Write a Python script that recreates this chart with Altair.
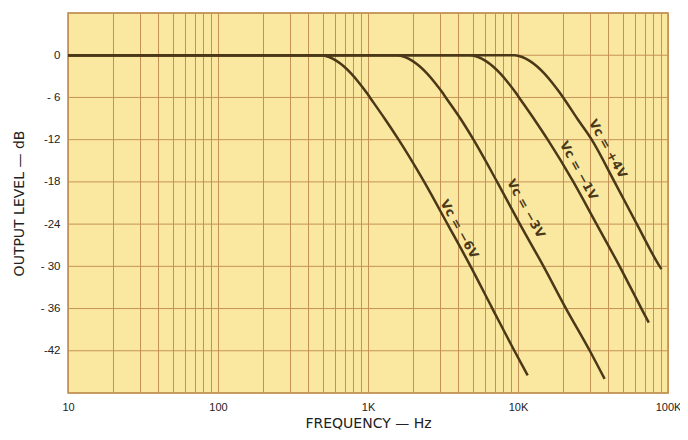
import altair as alt
import pandas as pd

# --- data (frequency in Hz, level in dB) ---
f_m6 = [10, 300, 490, 550, 617, 692, 776, 871, 977, 1030, 1300, 1600, 2370, 3390, 4830, 6750, 9460, 11600]
db_m6 = [0, 0, 0, -0.25, -0.8, -1.6, -2.65, -3.9, -5.3, -6, -9.1, -12, -18, -24, -30, -36, -42, -45.5]

f_m3 = [10, 900, 1570, 1762, 1977, 2218, 2489, 2793, 3133, 3300, 4160, 5050, 7260, 10300, 14800, 20900, 30100, 37800]
db_m3 = [0, 0, 0, -0.25, -0.8, -1.6, -2.65, -3.9, -5.3, -6, -9.1, -12, -18, -24, -30, -36, -42, -46]

f_m1 = [10, 3000, 4830, 5420, 6080, 6820, 7660, 8590, 9640, 10160, 12820, 15780, 23400, 33400, 47600, 66500, 74500]
db_m1 = [0, 0, 0, -0.25, -0.8, -1.6, -2.65, -3.9, -5.3, -6, -9.1, -12, -18, -24, -30, -36, -38.0]

f_p4 = [10, 6000, 9500, 10660, 11960, 13420, 15060, 16900, 18960, 20000, 25000, 31000, 44000, 62000, 88000, 90500]
db_p4 = [0, 0, 0, -0.25, -0.8, -1.6, -2.65, -3.9, -5.3, -6, -9.1, -12, -18, -24, -30, -30.4]

series_names = ["Vc = −6V", "Vc = −3V", "Vc = −1V", "Vc = +4V"]
label_f = [4060, 11300, 25400, 39700]
label_db = [-24.7, -21.8, -16.4, -13.3]

y_ticks = [0, -6, -12, -18, -24, -30, -36, -42]
y_tick_text = ["0", "- 6", "-12", "-18", "-24", "- 30", "- 36", "-42"]
x_grid = [10, 20, 30, 40, 50, 60, 70, 80, 90,
          100, 200, 300, 400, 500, 600, 700, 800, 900,
          1000, 2000, 3000, 4000, 5000, 6000, 7000, 8000, 9000,
          10000, 20000, 30000, 40000, 50000, 60000, 70000, 80000, 90000, 100000]
x_label_vals = [10, 100, 1000, 10000, 100000]
x_label_text = ["10", "100", "1K", "10K", "100K"]
y_grid = [6, 0, -6, -12, -18, -24, -30, -36, -42, -48]

# --- build tables ---
rows = []
for name, fs, dbs in zip(series_names, [f_m6, f_m3, f_m1, f_p4], [db_m6, db_m3, db_m1, db_p4]):
    for i, (f, d) in enumerate(zip(fs, dbs)):
        rows.append({"series": name, "f": f, "db": d, "order": i})
curves = pd.DataFrame(rows)
labels = pd.DataFrame({"series": series_names, "f": label_f, "db": label_db})
ygrid_df = pd.DataFrame({"db": y_grid})

CURVE = "#4a3818"
GRID = "#c59256"

xscale = alt.Scale(type="log", domain=[10, 100000], nice=False)
yscale = alt.Scale(domain=[-48, 6], nice=False, zero=False)

x_label_expr = " : ".join(
    f"datum.value == {v} ? '{t}'" for v, t in zip(x_label_vals, x_label_text)
) + " : ''"
y_label_expr = " : ".join(
    f"datum.value == {v} ? '{t}'" for v, t in zip(y_ticks, y_tick_text)
) + " : ''"

xaxis = alt.Axis(values=x_grid, labelExpr=x_label_expr, labelOverlap=False,
                 title="FREQUENCY — Hz", grid=True, gridColor=GRID, gridWidth=1,
                 ticks=False, domain=False, labelPadding=8, titlePadding=4,
                 labelFont="Liberation Sans", labelFontSize=11, labelColor="#222",
                 titleFont="DejaVu Sans", titleFontSize=14, titleFontWeight="normal",
                 titleColor="#222", labelFlush=False)
yaxis = alt.Axis(values=y_ticks, labelExpr=y_label_expr,
                 title="OUTPUT LEVEL — dB", grid=False, ticks=False, domain=False,
                 labelPadding=8, titlePadding=14,
                 labelFont="Liberation Sans", labelFontSize=11.5, labelColor="#222",
                 titleFont="DejaVu Sans", titleFontSize=14, titleFontWeight="normal",
                 titleColor="#222")

hgrid = alt.Chart(ygrid_df).mark_rule(color=GRID, strokeWidth=1).encode(
    y=alt.Y("db:Q", scale=yscale, axis=yaxis)
)

lines = alt.Chart(curves).mark_line(color=CURVE, strokeWidth=2.5, interpolate="monotone").encode(
    x=alt.X("f:Q", scale=xscale, axis=xaxis),
    y=alt.Y("db:Q", scale=yscale),
    detail="series:N",
    order="order:Q",
)

texts = alt.Chart(labels).mark_text(
    angle=61, font="DejaVu Sans", fontWeight="bold", fontSize=12.5, color=CURVE,
    align="center", baseline="middle"
).encode(
    x=alt.X("f:Q", scale=xscale),
    y=alt.Y("db:Q", scale=yscale),
    text="series:N",
)

chart = alt.layer(hgrid, lines, texts).properties(
    width=600, height=380,
    padding={"left": 60, "top": 5, "right": 12, "bottom": 39},
    autosize=alt.AutoSizeParams(type="none"),
    background="white",
).configure_view(fill="#fbe8a0", stroke="#b8894c", strokeWidth=1.5)

chart.save("out.html", embed_options={"renderer": "svg", "actions": False})
